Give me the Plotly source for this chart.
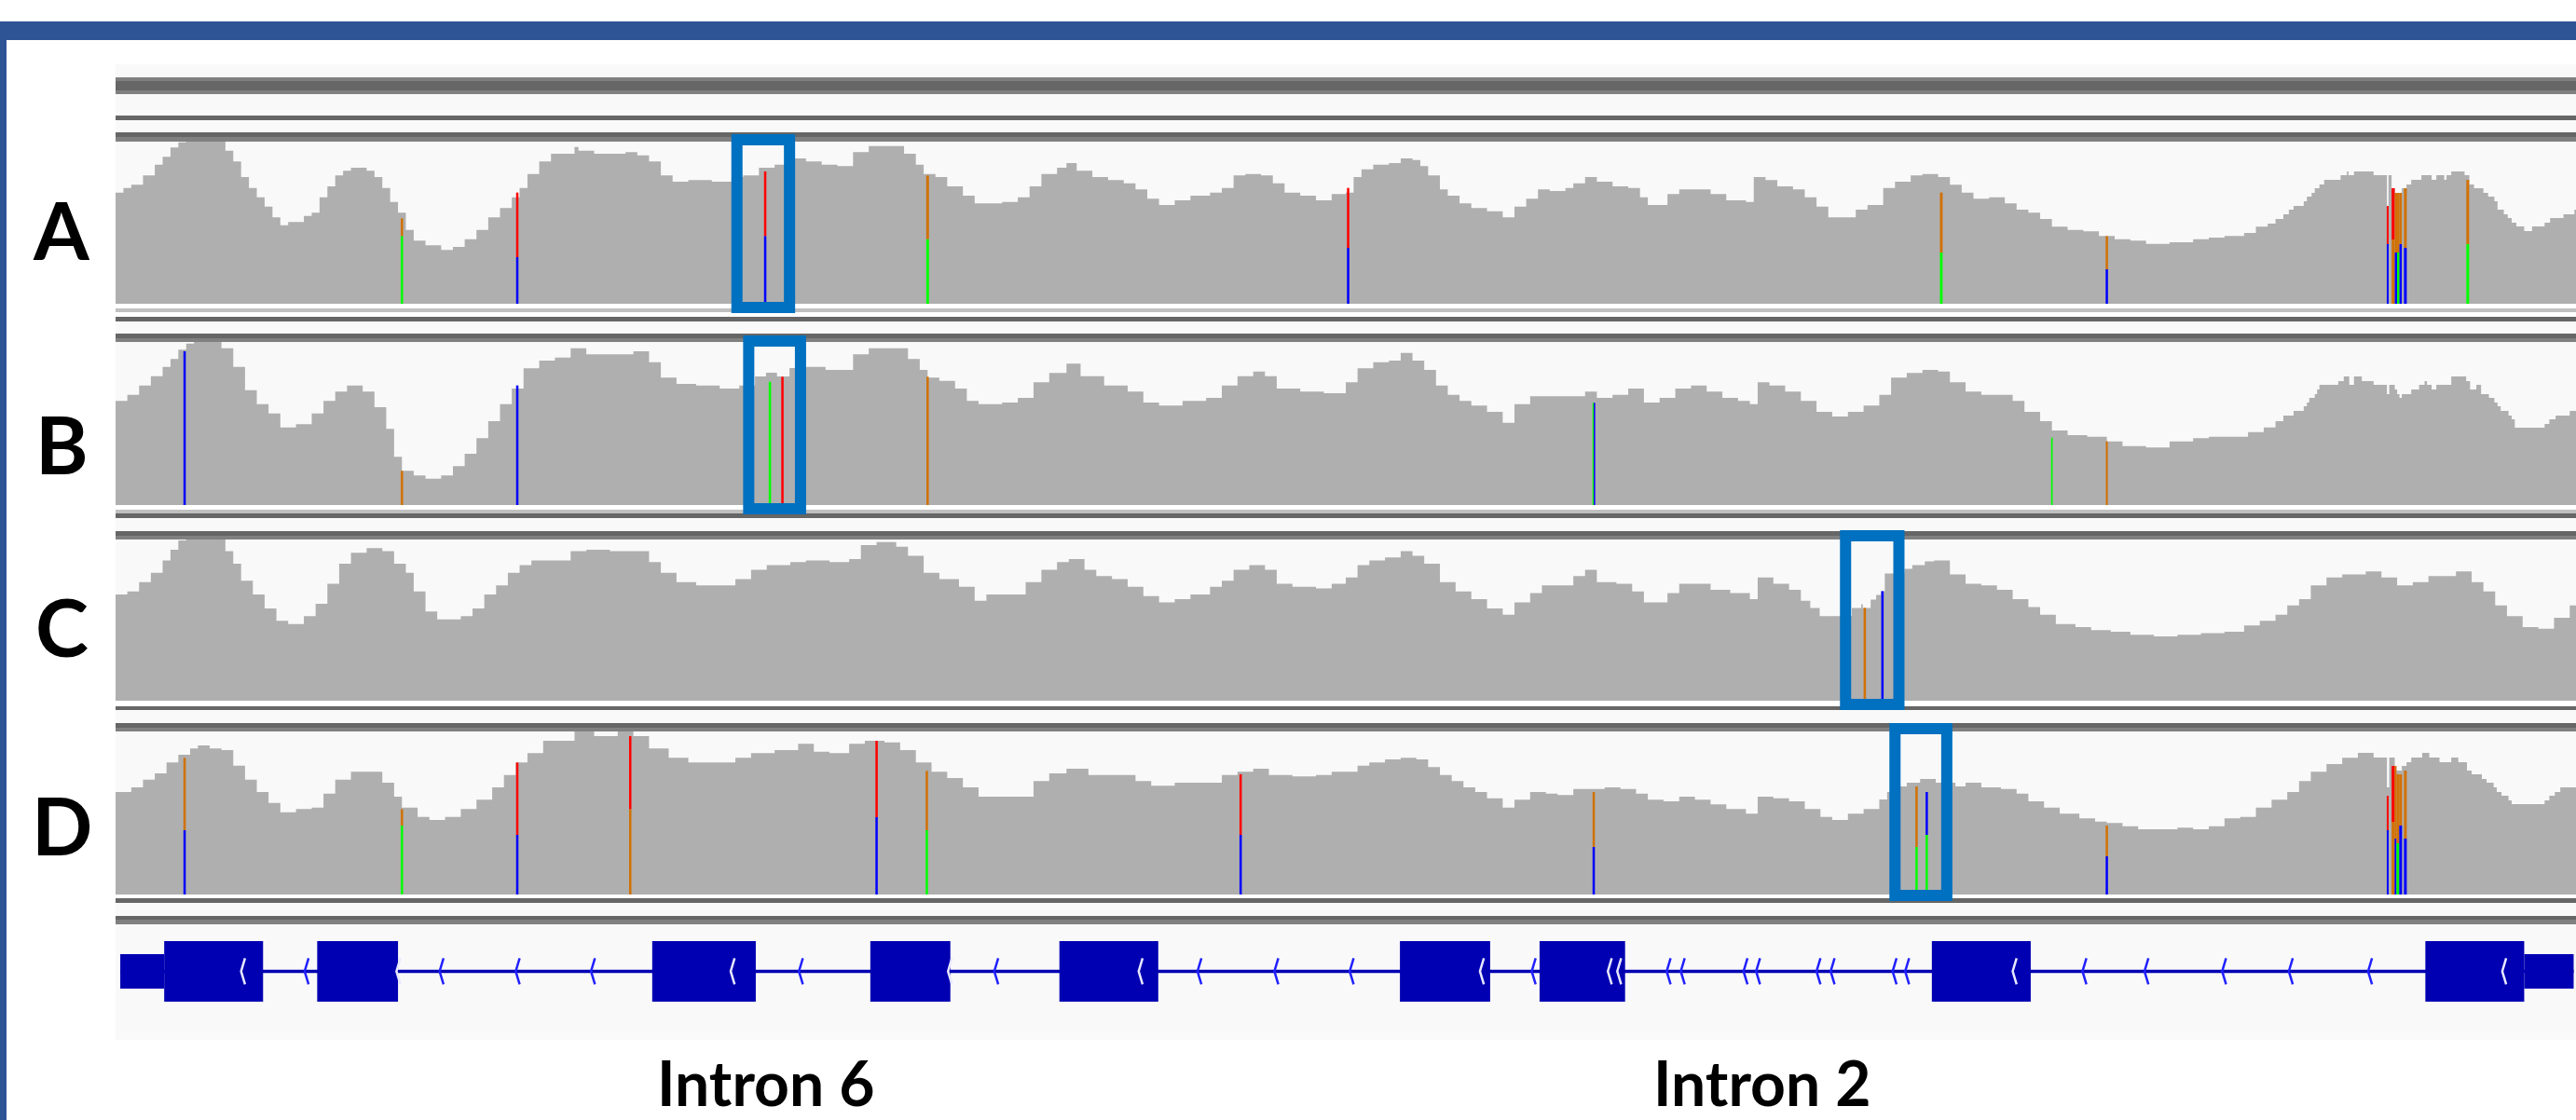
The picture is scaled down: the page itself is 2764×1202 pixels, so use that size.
import plotly.graph_objects as go

W, H = 2764, 1202
X_SPAN = 3136  # genomic window shown (bp, relative)

# ---------------- coverage data (read depth) ----------------
A_pos = [0, 10, 20, 35, 50, 60, 70, 80, 90, 130, 140, 150, 160, 170, 180, 190, 200, 210, 220, 240, 250, 260, 270, 280, 290, 300, 320, 330, 340, 350, 360, 370, 380, 395, 415, 430, 445, 460, 475, 490, 505, 515, 525, 540, 555, 575, 585, 590, 610, 630, 650, 665, 680, 695, 710, 730, 760, 785, 800, 820, 840, 865, 880, 900, 920, 940, 960, 990, 1005, 1020, 1030, 1045, 1060, 1080, 1095, 1130, 1150, 1165, 1180, 1200, 1212, 1225, 1245, 1265, 1285, 1300, 1315, 1330, 1350, 1370, 1395, 1410, 1425, 1440, 1460, 1475, 1490, 1510, 1530, 1550,
         1568, 1578, 1588, 1603, 1623, 1638, 1653, 1663, 1673, 1688, 1698, 1713, 1728, 1748, 1768, 1783, 1798, 1813, 1828, 1848, 1858, 1873, 1888, 1908, 1928, 1943, 1953, 1968, 1978, 1993, 2013, 2033, 2053, 2078, 2088, 2103, 2118, 2138, 2153, 2168, 2183, 2203, 2218, 2233, 2253, 2268, 2288, 2303, 2323, 2338, 2353, 2368, 2388, 2408, 2423, 2438, 2453, 2468, 2488, 2508, 2528, 2548, 2568, 2588, 2618, 2648, 2668, 2688, 2713, 2728, 2743, 2753,
         2763, 2770, 2776, 2789, 2793, 2799, 2803, 2809, 2815, 2836, 2844, 2846, 2853, 2878, 2895, 2897, 2901, 2905, 2914, 2920, 2926, 2939, 2952, 2958, 2968, 2971, 2977, 2994, 3000, 3006, 3012, 3018, 3024, 3032, 3036, 3044, 3049, 3054, 3060, 3070, 3080, 3096, 3103, 3120, 3134]
A_cov = [358, 373, 383, 413, 448, 473, 503, 520, 522, 522, 493, 458, 408, 373, 343, 313, 278, 253, 263, 283, 293, 343, 378, 413, 428, 438, 428, 408, 373, 328, 293, 238, 203, 188, 173, 183, 208, 238, 278, 308, 343, 373, 418, 458, 483, 483, 505, 493, 483, 483, 488, 478, 458, 413, 393, 398, 393, 408, 413, 438, 448, 468, 458, 448, 443, 488, 508, 508, 483, 448, 418, 408, 378, 348, 323, 328, 343, 378, 418, 438, 453, 428, 408, 398, 388, 368, 338, 318, 333, 348, 358, 373, 413, 418, 413, 388, 358, 348, 333, 353,
         358, 408, 433, 448, 453, 468, 463, 443, 413, 368, 348, 323, 308, 298, 278, 313, 338, 368, 363, 373, 388, 408, 393, 378, 373, 343, 318, 318, 353, 368, 368, 353, 333, 328, 408, 398, 378, 368, 343, 313, 278, 278, 303, 318, 373, 393, 413, 418, 408, 383, 358, 338, 343, 323, 303, 293, 273, 248, 238, 233, 218, 208, 203, 193, 198, 208, 213, 218, 228, 248, 258, 273,
         288, 303, 315, 330, 345, 357, 372, 384, 399, 414, 426, 414, 426, 414, 315, 414, 372, 357, 372, 384, 399, 414, 399, 414, 399, 414, 426, 414, 384, 372, 372, 357, 345, 330, 303, 288, 276, 261, 249, 234, 249, 261, 276, 288, 303]

B_pos = [0, 15, 30, 45, 60, 70, 80, 90, 100, 125, 135, 150, 165, 180, 195, 210, 230, 250, 265, 280, 295, 315, 330, 345, 355, 365, 380, 395, 415, 430, 445, 460, 475, 490, 505, 520, 540, 560, 580, 600, 630, 660, 680, 695, 715, 740, 770, 795, 815, 829, 843, 859, 880, 905, 925, 940, 960, 990, 1010, 1025, 1035, 1050, 1070, 1085, 1100, 1130, 1150, 1170, 1190, 1212, 1230, 1260, 1290, 1310, 1330, 1360, 1390, 1410, 1430, 1450, 1465, 1480, 1510, 1540,
         1568, 1583, 1603, 1623, 1638, 1653, 1668, 1683, 1698, 1713, 1728, 1748, 1768, 1783, 1803, 1828, 1858, 1873, 1888, 1908, 1928, 1948, 1968, 1988, 2008, 2028, 2048, 2068, 2083, 2093, 2108, 2128, 2148, 2168, 2188, 2208, 2228, 2248, 2263, 2283, 2303, 2323, 2338, 2358, 2378, 2403, 2418, 2433, 2453, 2468, 2488, 2513, 2538, 2558, 2588, 2618, 2648, 2668, 2698, 2718, 2738, 2753,
         2763, 2776, 2789, 2793, 2796, 2803, 2806, 2809, 2833, 2840, 2847, 2853, 2863, 2878, 2895, 2898, 2905, 2908, 2911, 2914, 2926, 2936, 2943, 2946, 2952, 2958, 2977, 2996, 3001, 3009, 3015, 3025, 3032, 3036, 3040, 3050, 3054, 3058, 3096, 3102, 3110, 3128]
B_cov = [335, 355, 385, 415, 445, 470, 500, 520, 525, 525, 505, 445, 370, 325, 295, 250, 260, 295, 335, 365, 385, 365, 315, 245, 155, 110, 95, 85, 95, 125, 165, 215, 270, 325, 375, 440, 465, 475, 505, 485, 485, 495, 460, 410, 390, 385, 375, 385, 414, 426, 414, 441, 445, 435, 435, 485, 505, 505, 470, 435, 410, 400, 375, 335, 325, 330, 345, 395, 425, 455, 415, 385, 365, 330, 320, 335, 345, 385, 415, 430, 415, 375, 365, 360,
         395, 440, 460, 465, 490, 465, 435, 385, 355, 335, 320, 300, 265, 325, 350, 350, 350, 365, 345, 355, 375, 330, 345, 375, 385, 365, 345, 335, 325, 395, 385, 365, 335, 300, 285, 300, 320, 355, 410, 425, 435, 430, 395, 365, 355, 355, 335, 300, 270, 240, 225, 220, 205, 190, 185, 205, 215, 220, 220, 235, 250, 270,
         288, 303, 318, 330, 345, 357, 372, 387, 399, 414, 387, 414, 399, 387, 357, 387, 372, 357, 345, 357, 372, 387, 399, 387, 372, 387, 414, 399, 372, 387, 357, 345, 330, 318, 303, 288, 276, 249, 261, 276, 288, 303]

C_pos = [0, 15, 30, 45, 60, 70, 80, 90, 130, 140, 150, 160, 175, 190, 205, 220, 240, 255, 270, 285, 300, 320, 340, 355, 370, 380, 395, 410, 425, 440, 455, 470, 485, 500, 515, 530, 560, 580, 600, 630, 660, 680, 695, 715, 740, 770, 790, 810, 830, 860, 880, 910, 935, 950, 970, 995, 1010, 1030, 1050, 1075, 1095, 1110, 1140, 1160, 1180, 1200, 1215, 1235, 1250, 1270, 1290, 1310, 1330, 1350, 1370, 1395, 1410, 1425, 1445, 1465, 1480, 1500, 1530, 1550,
         1568, 1583, 1598, 1618, 1638, 1653, 1668, 1688, 1708, 1728, 1748, 1768, 1783, 1803, 1818, 1838, 1858, 1873, 1888, 1913, 1933, 1948, 1968, 1978, 1993, 2018, 2033, 2058, 2083, 2093, 2113, 2133, 2148, 2160, 2172, 2213, 2225, 2227, 2237, 2244, 2250, 2255, 2280, 2290, 2306, 2318, 2338, 2358, 2378, 2398, 2418, 2438, 2453, 2473, 2498, 2518, 2543, 2568, 2598, 2628, 2658, 2688, 2713, 2733, 2753, 2768, 2783, 2798, 2818, 2838, 2868, 2888, 2908, 2928, 2948, 2968, 2983, 3003, 3018, 3033, 3048, 3068, 3088, 3108, 3128]
C_cov = [343, 353, 383, 413, 453, 488, 518, 521, 521, 483, 443, 388, 343, 298, 258, 248, 273, 313, 378, 443, 478, 493, 483, 443, 413, 353, 288, 263, 263, 273, 298, 343, 373, 413, 438, 453, 453, 483, 488, 483, 483, 448, 413, 383, 373, 373, 393, 423, 438, 448, 453, 448, 458, 503, 513, 498, 468, 413, 393, 368, 323, 343, 343, 383, 423, 448, 458, 423, 403, 393, 368, 338, 318, 328, 343, 368, 388, 423, 438, 423, 378, 368, 363, 378,
         398, 438, 453, 463, 483, 468, 443, 383, 353, 328, 298, 278, 318, 348, 373, 373, 403, 423, 383, 378, 353, 318, 318, 348, 378, 378, 358, 348, 328, 398, 378, 358, 323, 300, 273, 300, 312, 300, 327, 342, 354, 411, 426, 438, 450, 453, 408, 378, 373, 358, 328, 303, 278, 248, 238, 228, 223, 213, 208, 213, 218, 223, 243, 258, 278, 308, 328, 373, 398, 408, 418, 398, 373, 383, 403, 403, 418, 383, 353, 308, 273, 238, 233, 268, 308]

D_pos = [0, 20, 35, 50, 65, 80, 95, 105, 120, 135, 150, 165, 180, 195, 210, 230, 250, 265, 280, 300, 320, 340, 355, 365, 385, 400, 420, 440, 460, 480, 495, 510, 525, 545, 565, 585, 610, 640, 660, 680, 705, 730, 760, 790, 810, 840, 870, 890, 910, 935, 955, 980, 1000, 1020, 1040, 1060, 1080, 1100, 1130, 1150, 1170, 1190, 1212, 1240, 1270, 1300, 1320, 1350, 1380, 1410, 1430, 1450, 1470, 1500, 1530, 1550,
         1568, 1583, 1598, 1618, 1638, 1658, 1673, 1688, 1703, 1718, 1733, 1748, 1768, 1783, 1803, 1823, 1838, 1858, 1878, 1898, 1918, 1938, 1953, 1973, 1993, 2013, 2033, 2053, 2078, 2093, 2113, 2133, 2153, 2173, 2188, 2208, 2228, 2248, 2258, 2268, 2283, 2300, 2320, 2335, 2345, 2358, 2378, 2403, 2423, 2438, 2458, 2478, 2503, 2523, 2538, 2558, 2578, 2608, 2628, 2648, 2668, 2688, 2708, 2728, 2748, 2768, 2783, 2798, 2818, 2838,
         2858, 2878, 2895, 2898, 2905, 2907, 2914, 2920, 2926, 2940, 2949, 2962, 2977, 2986, 2997, 3003, 3016, 3022, 3031, 3035, 3041, 3050, 3054, 3096, 3102, 3109, 3116]
D_cov = [330, 345, 370, 390, 425, 450, 470, 480, 470, 465, 415, 370, 330, 295, 265, 275, 280, 325, 370, 395, 395, 360, 315, 280, 250, 240, 250, 275, 305, 345, 385, 425, 455, 495, 495, 525, 510, 525, 510, 470, 440, 425, 425, 440, 455, 465, 485, 460, 455, 485, 495, 490, 465, 425, 395, 375, 345, 315, 315, 315, 365, 390, 405, 385, 385, 365, 350, 360, 360, 385, 395, 405, 385, 380, 385, 395,
         395, 415, 425, 435, 440, 435, 410, 385, 365, 345, 330, 310, 280, 305, 330, 325, 320, 340, 340, 345, 340, 325, 305, 300, 315, 305, 290, 275, 260, 315, 310, 300, 275, 250, 240, 260, 275, 306, 330, 348, 360, 372, 360, 360, 348, 360, 345, 340, 325, 300, 280, 260, 245, 235, 230, 220, 210, 210, 215, 210, 220, 245, 250, 280, 305, 330, 365, 395, 420, 440,
         456, 441, 345, 441, 414, 399, 414, 426, 441, 456, 441, 426, 441, 426, 399, 387, 372, 360, 345, 330, 318, 303, 291, 303, 318, 330, 345]

# ---------------- mismatch (allele) bars: position, width (bp), [(base, depth) bottom->top] ----------------
A_mm = [(365, 3, [("A", 218), ("G", 57)]), (512, 3, [("C", 150), ("T", 208)]),
        (828, 3, [("C", 218), ("T", 208)]), (1035, 3.5, [("A", 208), ("G", 205)]),
        (1571, 3, [("C", 180), ("T", 193)]), (2327, 3.5, [("A", 165), ("G", 193)]),
        (2538, 3, [("C", 111), ("G", 107)]),
        (2896, 2.4, [("C", 192), ("T", 123)]), (2903, 4, [("G", 207), ("T", 165)]),
        (2906.5, 3, [("C", 165), ("G", 192)]), (2909.5, 3, [("A", 165), ("G", 192)]),
        (2912.5, 3, [("C", 192), ("G", 165)]), (2918.5, 3.6, [("C", 180), ("G", 192)]),
        (2998, 3.6, [("A", 192), ("G", 207)])]
B_mm = [(88, 3, [("C", 495)]), (365, 3, [("G", 110)]), (512, 3, [("C", 385)]),
        (834, 3, [("A", 397)]), (850, 3, [("T", 413)]), (1035, 3, [("G", 413)]),
        (1883.3, 1.6, [("A", 329)]), (1885, 1.8, [("C", 329)]),
        (2468, 2, [("A", 217)]), (2538, 2.5, [("G", 205)])]
C_mm = [(2229.5, 3, [("G", 300)]), (2252, 3, [("C", 354)])]
D_mm = [(88, 3, [("C", 207), ("G", 233)]), (365, 3, [("A", 222), ("G", 53)]),
        (512, 3, [("C", 192), ("T", 233)]), (656, 3, [("G", 275), ("T", 235)]),
        (970, 3, [("C", 249), ("T", 246)]), (1034, 3, [("A", 207), ("G", 191)]),
        (1434, 3, [("C", 192), ("T", 195)]), (1884, 3, [("C", 153), ("G", 177)]),
        (2295.5, 3, [("A", 153), ("G", 195)]), (2308.5, 3, [("A", 192), ("C", 138)]),
        (2538, 3, [("C", 123), ("G", 99)]),
        (2896, 2.4, [("C", 207), ("T", 111)]), (2903, 4, [("G", 234), ("T", 180)]),
        (2906, 2.4, [("C", 180), ("G", 234)]), (2909, 3.6, [("A", 165), ("G", 222)]),
        (2912.5, 3.6, [("C", 222), ("G", 165)]), (2918.5, 3.6, [("C", 180), ("G", 219)])]

# ---------------- gene model ----------------
EXON_START = [62, 257, 684, 962, 1203, 1637, 1815, 2315, 2944]
EXON_END = [188, 360, 816, 1064, 1329, 1752, 1924, 2441, 3070]
UTR_START = [6, 3070]
UTR_END = [62, 3133]
INTRON_ARROWS = [241, 413, 510, 606, 871, 1120, 1379, 1477, 1573, 1805, 1977, 1995, 2075, 2091,
                 2168, 2186, 2265, 2281, 2507, 2586, 2685, 2770, 2871]
EXON_ARROWS = [160, 358, 784, 1061, 1304, 1739, 1902, 1914, 2418, 3042]

TRACK_LABELS = ["A", "B", "C", "D"]
INTRON_LABELS = ["Intron 6", "Intron 2"]
INTRON_LABEL_POS = [822, 1891]  # pixel centres of labels

# ---------------- styling / layout ----------------
BASE_COLORS = {"A": "#00FF00", "C": "#0000FF", "G": "#D17105", "T": "#FF0000"}
COV_COLOR = "#AFAFAF"
GENE_COLOR = "#0000B2"
HL_COLOR = "#0070C0"
PLOT_LEFT = 124
PX_PER_BP = (W - PLOT_LEFT) / X_SPAN

# (top px, bottom px, y-range) of each data track
TRACK_GEOM = [(152, 326, 522), (367, 542, 525), (579, 752, 521), (785, 960, 525)]
GENE_GEOM = (992, 1116)
LABEL_Y = [245, 475, 672, 884]
HL_BOXES = [(0, 792, 859, 150, 330), (1, 807, 873, 366, 546), (2, 2205, 2273, 575, 756), (3, 2268, 2334, 782, 961)]


def py(y):
    return 1 - y / H


def px(x):
    return x / W


tracks = [(A_pos, A_cov, A_mm), (B_pos, B_cov, B_mm), (C_pos, C_cov, C_mm), (D_pos, D_cov, D_mm)]

fig = go.Figure()
for i, (pos, cov, mm) in enumerate(tracks):
    yname = "y" if i == 0 else f"y{i + 1}"
    fig.add_trace(go.Scatter(x=list(pos) + [X_SPAN], y=list(cov) + [cov[-1]], mode="lines",
                             line=dict(width=0, shape="hv", color=COV_COLOR), fill="tozeroy",
                             fillcolor=COV_COLOR, xaxis="x", yaxis=yname, hoverinfo="skip"))
    # allele-coloured segments drawn on top of the coverage fill
    for p, w, segs in mm:
        b = 0
        for base, d in segs:
            fig.add_trace(go.Scatter(x=[p, p], y=[b, b + d], mode="lines",
                                     line=dict(color=BASE_COLORS[base], width=w * PX_PER_BP),
                                     xaxis="x", yaxis=yname, hoverinfo="skip"))
            b += d

# gene track
GC = 0.593
EX_H = 0.262
UTR_H = 0.149
ARR_H = 0.113
ARR_W = 5
fig.add_trace(go.Scatter(x=[UTR_START[0], UTR_END[-1]], y=[GC, GC], mode="lines",
                         line=dict(color=GENE_COLOR, width=3.5), xaxis="x", yaxis="y5", hoverinfo="skip"))


def chevrons(xs):
    cx, cy = [], []
    for x in xs:
        cx += [x + ARR_W, x, x + ARR_W, None]
        cy += [GC + ARR_H, GC, GC - ARR_H, None]
    return cx, cy


cx, cy = chevrons(INTRON_ARROWS)
fig.add_trace(go.Scatter(x=cx, y=cy, mode="lines", line=dict(color="#2020FF", width=2.5),
                         xaxis="x", yaxis="y5", hoverinfo="skip"))

shapes = []
# frame
shapes.append(dict(type="rect", xref="paper", yref="paper", x0=0, x1=1, y0=py(43), y1=py(23),
                   fillcolor="#2F5496", line=dict(width=0), layer="below"))
shapes.append(dict(type="rect", xref="paper", yref="paper", x0=0, x1=px(7), y0=0, y1=py(23),
                   fillcolor="#2F5496", line=dict(width=0), layer="below"))
shapes.append(dict(type="rect", xref="paper", yref="paper", x0=px(PLOT_LEFT), x1=1, y0=py(1116), y1=py(69),
                   fillcolor="#F9F9F9", line=dict(width=0), layer="below"))
SEP = [(83, 87, "#808080"), (87, 97, "#666666"), (97, 101, "#808080"), (124, 129, "#666666"),
       (142, 147, "#666666"), (147, 152, "#808080"), (326, 340, "#FFFFFF"), (331, 335, "#C0C0C0"), (340, 345, "#666666"),
       (358, 363, "#666666"), (363, 367, "#808080"), (542, 551, "#FFFFFF"), (547, 551, "#C0C0C0"), (551, 556, "#666666"),
       (570, 575, "#666666"), (575, 579, "#808080"), (752, 758, "#FFFFFF"), (758, 762, "#666666"),
       (776, 781, "#666666"), (781, 785, "#808080"), (960, 964, "#FFFFFF"), (964, 969, "#666666"),
       (983, 987, "#666666"), (987, 992, "#808080")]
for y0, y1, c in SEP:
    shapes.append(dict(type="rect", xref="paper", yref="paper", x0=px(PLOT_LEFT), x1=1, y0=py(y1), y1=py(y0),
                       fillcolor=c, line=dict(width=0), layer="below"))
# exons
for s, e in zip(EXON_START, EXON_END):
    shapes.append(dict(type="rect", xref="x", yref="y5", x0=s, x1=e, y0=GC - EX_H, y1=GC + EX_H,
                       fillcolor=GENE_COLOR, line=dict(width=0), layer="above"))
for s, e in zip(UTR_START, UTR_END):
    shapes.append(dict(type="rect", xref="x", yref="y5", x0=s, x1=e, y0=GC - UTR_H, y1=GC + UTR_H,
                       fillcolor=GENE_COLOR, line=dict(width=0), layer="above"))
# exon chevrons (white, drawn over exons)
for x in EXON_ARROWS:
    shapes.append(dict(type="path", xref="x", yref="y5",
                       path=f"M {x + ARR_W},{GC + ARR_H} L {x},{GC} L {x + ARR_W},{GC - ARR_H}",
                       line=dict(color="#E8E8FF", width=2.5), layer="above"))
# highlight boxes
for ti, x0, x1, y0, y1 in HL_BOXES:
    shapes.append(dict(type="rect", xref="x", yref="paper", x0=x0, x1=x1, y0=py(y1), y1=py(y0),
                       line=dict(color=HL_COLOR, width=12), fillcolor="rgba(0,0,0,0)", layer="above"))

annotations = []
for lab, yc in zip(TRACK_LABELS, LABEL_Y):
    annotations.append(dict(text=lab, xref="paper", yref="paper", x=px(66), y=py(yc), xanchor="center",
                            yanchor="middle", showarrow=False,
                            font=dict(family="Lato, 'Open Sans', sans-serif", size=86, color="black", weight=700)))
for lab, xc in zip(INTRON_LABELS, INTRON_LABEL_POS):
    annotations.append(dict(text=lab, xref="paper", yref="paper", x=px(xc), y=0, xanchor="center",
                            yanchor="bottom", showarrow=False, borderpad=0,
                            font=dict(family="Lato, 'Open Sans', sans-serif", size=66, color="black", weight=700)))

layout = dict(width=W, height=H, margin=dict(l=0, r=0, t=0, b=0), paper_bgcolor="white",
              plot_bgcolor="rgba(0,0,0,0)", showlegend=False,
              shapes=shapes, annotations=annotations,
              xaxis=dict(domain=[px(PLOT_LEFT), 1], range=[0, X_SPAN], visible=False, fixedrange=True, anchor="y"))
for i, (top, bot, rng) in enumerate(TRACK_GEOM):
    key = "yaxis" if i == 0 else f"yaxis{i + 1}"
    layout[key] = dict(domain=[py(bot), py(top)], range=[0, rng], visible=False, fixedrange=True, anchor="x")
layout["yaxis5"] = dict(domain=[py(GENE_GEOM[1]), py(GENE_GEOM[0])], range=[0, 1], visible=False,
                        fixedrange=True, anchor="x")
fig.update_layout(**layout)
fig.write_html("out.html", config=dict(displayModeBar=False),
               post_script="document.body.style.margin='0';document.body.style.overflow='hidden';")
